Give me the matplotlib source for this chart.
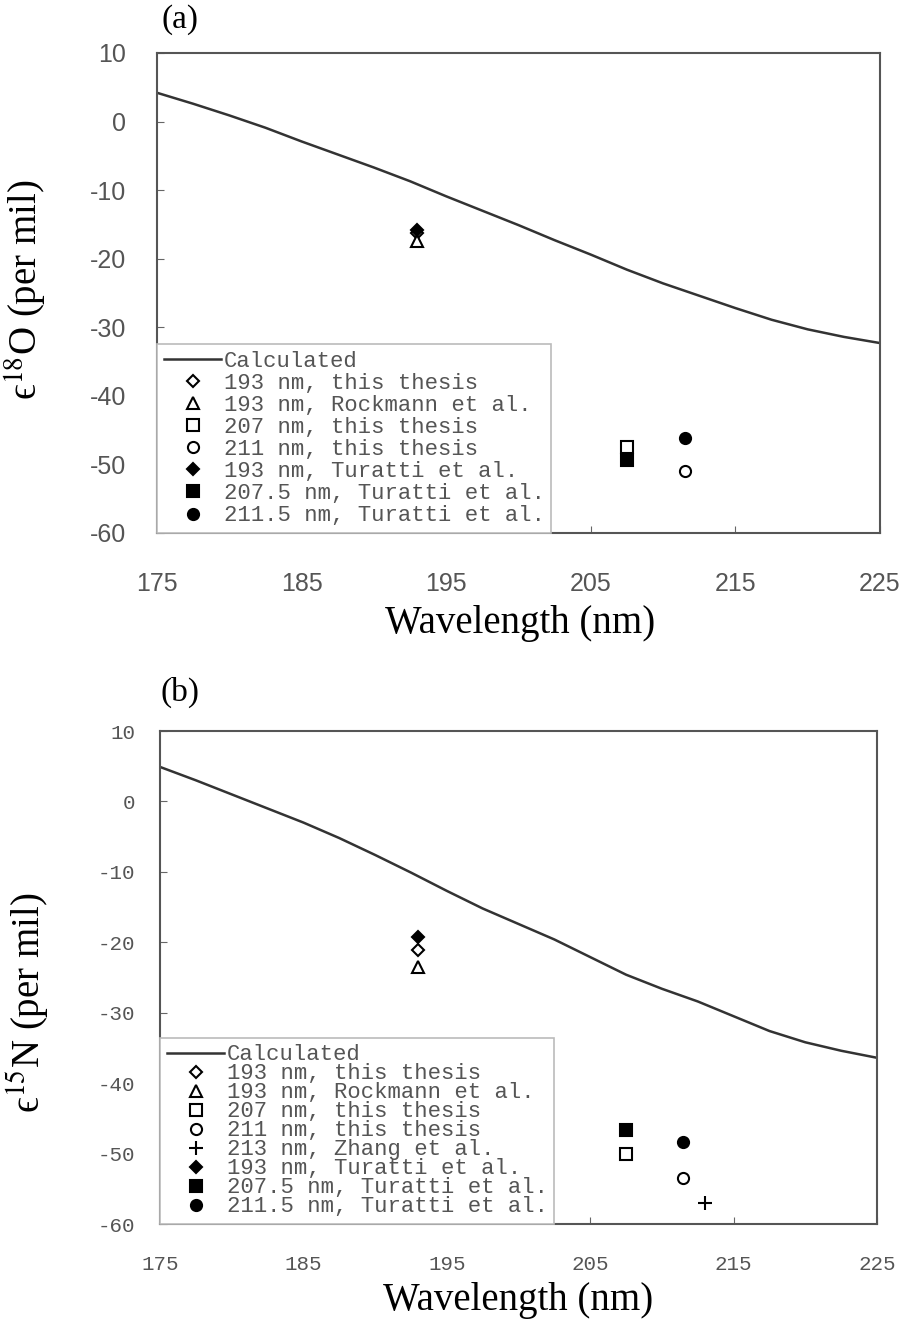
import matplotlib.pyplot as plt
import numpy as np

plt.rcParams['mathtext.fontset'] = 'stix'
plt.rcParams['axes.unicode_minus'] = False

# calculated curves
wl_calc = [175, 177.5, 180, 182.5, 185, 187.5, 190, 192.5, 195, 197.5, 200,
           202.5, 205, 207.5, 210, 212.5, 215, 217.5, 220, 222.5, 225]
eps18O_calc = [4.2, 2.6, 0.9, -0.9, -2.9, -4.8, -6.7, -8.7, -10.9, -13.0, -15.1,
               -17.3, -19.4, -21.6, -23.6, -25.4, -27.2, -28.9, -30.3, -31.4, -32.3]
eps15N_calc = [4.9, 3.0, 1.0, -1.0, -3.0, -5.2, -7.6, -10.1, -12.7, -15.2, -17.4,
               -19.6, -22.1, -24.6, -26.6, -28.4, -30.5, -32.6, -34.2, -35.4, -36.4]

# measured points, panel (a)
labels_a = ['193 nm, this thesis', '193 nm, Rockmann et al.', '207 nm, this thesis',
            '211 nm, this thesis', '193 nm, Turatti et al.', '207.5 nm, Turatti et al.',
            '211.5 nm, Turatti et al.']
wl_a = [193, 193, 207.5, 211.5, 193, 207.5, 211.5]
eps_a = [-16.2, -17.4, -47.5, -51.0, -15.8, -49.3, -46.1]

# measured points, panel (b)
labels_b = ['193 nm, this thesis', '193 nm, Rockmann et al.', '207 nm, this thesis',
            '211 nm, this thesis', '213 nm, Zhang et al.', '193 nm, Turatti et al.',
            '207.5 nm, Turatti et al.', '211.5 nm, Turatti et al.']
wl_b = [193, 193, 207.5, 211.5, 213, 193, 207.5, 211.5]
eps_b = [-21.1, -23.5, -50.0, -53.5, -57.0, -19.2, -46.6, -48.3]

xticks = [175, 185, 195, 205, 215, 225]
yticks = [-60, -50, -40, -30, -20, -10, 0, 10]

# marker styles (marker, filled, size)
style = {
    '193 nm, this thesis': ('D', False, 6),
    '193 nm, Rockmann et al.': ('^', False, 8),
    '207 nm, this thesis': ('s', False, 8),
    '211 nm, this thesis': ('o', False, 8),
    '213 nm, Zhang et al.': ('+', True, 10),
    '193 nm, Turatti et al.': ('D', True, 6),
    '207.5 nm, Turatti et al.': ('s', True, 8),
    '211.5 nm, Turatti et al.': ('o', True, 8),
}

gray = '#555555'
serif = ['Liberation Serif', 'DejaVu Serif']
fig = plt.figure(figsize=(9.09, 13.22), dpi=100)
ax_a = fig.add_axes([157/909, 1-533/1322, 723/909, 480/1322])
ax_b = fig.add_axes([160/909, 1-1224/1322, 717/909, 493/1322])


def draw(ax, calc, labels, wl, eps, ylab, tickfont, ticksize, legspacing):
    ax.plot(wl_calc, calc, color='#333333', lw=1.8, label='Calculated')
    for lab, x, y in zip(labels, wl, eps):
        m, filled, ms = style[lab]
        ax.plot([x], [y], linestyle='none', marker=m, ms=ms, mew=1.5,
                mec='black', mfc='black' if filled else 'white', label=lab)
    ax.set_xlim(175, 225)
    ax.set_ylim(-60, 10)
    ax.set_xticks(xticks)
    ax.set_yticks(yticks)
    ax.tick_params(direction='in', length=5, color='#666666', labelcolor=gray)
    for t in ax.get_xticklabels() + ax.get_yticklabels():
        t.set_family(tickfont)
        t.set_fontsize(ticksize)
    for s in ax.spines.values():
        s.set_color('#555555')
        s.set_linewidth(1.5)
    ax.set_xlabel('Wavelength (nm)', family=serif, fontsize=28)
    ax.set_ylabel(ylab, family=serif, fontsize=28)
    leg = ax.legend(loc='lower left', bbox_to_anchor=(0, 0), borderaxespad=0,
                    prop={'family': 'Liberation Mono', 'size': 16},
                    labelspacing=legspacing, handlelength=2.6, handletextpad=0.1,
                    borderpad=0.3, fancybox=False, framealpha=1,
                    edgecolor='#bbbbbb', labelcolor=gray)
    leg.get_frame().set_linewidth(1.2)


draw(ax_a, eps18O_calc, labels_a, wl_a, eps_a, '\u03f5$^{18}$O (per mil)',
     'Liberation Sans', 18, 0.05)
draw(ax_b, eps15N_calc, labels_b, wl_b, eps_b, '\u03f5$^{15}$N (per mil)',
     'Liberation Mono', 15, -0.09)

ax_a.tick_params(axis='y', pad=22)
ax_a.tick_params(axis='x', pad=28)
ax_b.tick_params(axis='y', pad=18)
ax_b.tick_params(axis='x', pad=22)
ax_a.xaxis.set_label_coords(0.502, -0.150)
ax_b.xaxis.set_label_coords(0.500, -0.118)
ax_a.yaxis.set_label_coords(-0.150, 0.506)
ax_b.yaxis.set_label_coords(-0.152, 0.448)

fig.text(180/909, 1-20/1322, '(a)', family=serif, fontsize=24,
         ha='center', va='center')
fig.text(180/909, 1-692/1322, '(b)', family=serif, fontsize=24,
         ha='center', va='center')

fig.savefig('out.png', dpi=100, facecolor='white')
